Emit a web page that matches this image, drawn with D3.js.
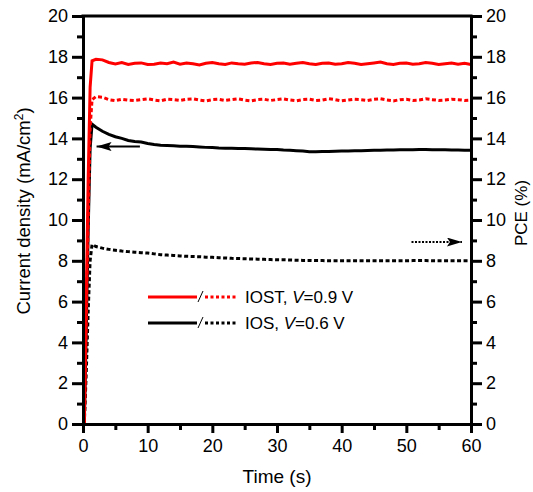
<!DOCTYPE html>
<html>
<head>
<meta charset="utf-8">
<script src="https://cdn.jsdelivr.net/npm/d3@7"></script>
<style>
  body { margin: 0; background: #fff; }
  text { font-family: "Liberation Sans", Arial, sans-serif; fill: #000; }
</style>
</head>
<body>
<script>
// time points (s) and readings
var timeRise = [0.2, 0.5, 0.8, 1.1, 1.4];
var iostJRise = [0, 6, 12, 16.5, 17.8];
var iostPRise = [0, 5, 10, 14.5, 15.9];
var iosJRise = [0, 4.5, 9.5, 13.5, 14.7];
var iosPRise = [0, 2.5, 5.5, 8, 8.8];

var timeMain = [2, 3, 4, 5, 6, 7, 8, 9, 10, 11, 12, 13, 14, 15, 16, 17, 18, 19, 20, 21, 22, 23, 24, 25, 26, 27, 28, 29, 30,
  31, 32, 33, 34, 35, 36, 37, 38, 39, 40, 41, 42, 43, 44, 45, 46, 47, 48, 49, 50, 51, 52, 53, 54, 55, 56, 57, 58, 59, 60];
var iostJ = [17.88, 17.85, 17.72, 17.65, 17.72, 17.62, 17.68, 17.7, 17.62, 17.64, 17.7, 17.66, 17.74, 17.64, 17.7, 17.66, 17.6, 17.68, 17.72, 17.66, 17.62, 17.7, 17.66, 17.64, 17.7, 17.72, 17.66, 17.62, 17.68,
  17.7, 17.64, 17.68, 17.72, 17.66, 17.62, 17.68, 17.7, 17.64, 17.66, 17.72, 17.68, 17.62, 17.66, 17.7, 17.74, 17.66, 17.62, 17.68, 17.7, 17.64, 17.66, 17.72, 17.68, 17.62, 17.66, 17.7, 17.64, 17.68, 17.62];
var iostP = [16.05, 16.02, 15.9, 15.85, 15.92, 15.88, 15.86, 15.9, 15.94, 15.88, 15.84, 15.92, 15.9, 15.86, 15.92, 15.94, 15.88, 15.84, 15.9, 15.92, 15.86, 15.9, 15.94, 15.88, 15.84, 15.9, 15.92, 15.86, 15.9,
  15.94, 15.88, 15.84, 15.9, 15.92, 15.86, 15.88, 15.94, 15.9, 15.84, 15.88, 15.92, 15.9, 15.86, 15.92, 15.94, 15.88, 15.84, 15.9, 15.92, 15.86, 15.88, 15.94, 15.9, 15.86, 15.88, 15.92, 15.9, 15.86, 15.88];
var iosJ = [14.55, 14.35, 14.2, 14.08, 14.0, 13.9, 13.85, 13.82, 13.75, 13.7, 13.66, 13.65, 13.64, 13.62, 13.62, 13.6, 13.58, 13.56, 13.55, 13.53, 13.52, 13.52, 13.5, 13.5, 13.49, 13.48, 13.47, 13.46, 13.45,
  13.43, 13.42, 13.4, 13.38, 13.35, 13.35, 13.36, 13.36, 13.37, 13.38, 13.38, 13.4, 13.4, 13.41, 13.42, 13.42, 13.43, 13.43, 13.44, 13.44, 13.44, 13.45, 13.45, 13.44, 13.44, 13.44, 13.43, 13.43, 13.42, 13.42];
var iosP = [8.7, 8.62, 8.56, 8.52, 8.48, 8.45, 8.42, 8.4, 8.38, 8.34, 8.3, 8.28, 8.26, 8.24, 8.22, 8.21, 8.2, 8.18, 8.17, 8.15, 8.14, 8.12, 8.11, 8.1, 8.09, 8.08, 8.07, 8.06, 8.05,
  8.05, 8.04, 8.03, 8.02, 8.02, 8.01, 8.01, 8.0, 8.0, 8.0, 8.0, 8.0, 8.0, 8.0, 8.0, 8.0, 8.0, 8.0, 8.0, 8.0, 8.01, 8.01, 8.01, 8.0, 8.0, 8.0, 8.0, 8.0, 8.0, 8.0];

var xTicks = [0, 10, 20, 30, 40, 50, 60];
var yTicks = [0, 2, 4, 6, 8, 10, 12, 14, 16, 18, 20];

var W = 533, H = 492;
var mLeft = 83, mRight = 471, mTop = 16, mBottom = 424;

var svg = d3.select('body').append('svg').attr('width', W).attr('height', H);

var x = d3.scaleLinear().domain([0, 60]).range([mLeft, mRight]);
var yL = d3.scaleLinear().domain([0, 20]).range([mBottom, mTop]);
var yR = d3.scaleLinear().domain([0, 20]).range([mBottom, mTop]);

function series(vRise, vMain) {
  var pts = [];
  timeRise.forEach(function (t, i) { pts.push([t, vRise[i]]); });
  timeMain.forEach(function (t, i) { pts.push([t, vMain[i]]); });
  return pts;
}

var lineL = d3.line().x(function (d) { return x(d[0]); }).y(function (d) { return yL(d[1]); });
var lineR = d3.line().x(function (d) { return x(d[0]); }).y(function (d) { return yR(d[1]); });

var g = svg.append('g');
g.append('path').attr('d', lineR(series(iosPRise, iosP))).attr('fill', 'none')
  .attr('stroke', '#000').attr('stroke-width', 3).attr('stroke-dasharray', '4,2.5');
g.append('path').attr('d', lineL(series(iosJRise, iosJ))).attr('fill', 'none')
  .attr('stroke', '#000').attr('stroke-width', 3);
g.append('path').attr('d', lineR(series(iostPRise, iostP))).attr('fill', 'none')
  .attr('stroke', '#ff0000').attr('stroke-width', 3).attr('stroke-dasharray', '4,2.5');
g.append('path').attr('d', lineL(series(iostJRise, iostJ))).attr('fill', 'none')
  .attr('stroke', '#ff0000').attr('stroke-width', 3);

// axes
function styleAxis(sel) {
  sel.selectAll('path').attr('stroke-width', 3);
  sel.selectAll('line').attr('stroke-width', 3);
  sel.selectAll('text').style('font-size', '18px').style('font-family', '"Liberation Sans", Arial, sans-serif');
}

var minorY = d3.range(1, 20, 2);
var minorX = d3.range(5, 60, 10);

svg.append('g').attr('transform', 'translate(' + mLeft + ',0)')
  .call(d3.axisLeft(yL).tickValues(minorY).tickSize(6).tickSizeOuter(0).tickFormat('')).call(styleAxis);
svg.append('g').attr('transform', 'translate(' + mLeft + ',0)')
  .call(d3.axisLeft(yL).tickValues(yTicks).tickSize(11).tickSizeOuter(0).tickPadding(4)).call(styleAxis);

svg.append('g').attr('transform', 'translate(' + mRight + ',0)')
  .call(d3.axisRight(yR).tickValues(minorY).tickSize(6).tickSizeOuter(0).tickFormat('')).call(styleAxis);
svg.append('g').attr('transform', 'translate(' + mRight + ',0)')
  .call(d3.axisRight(yR).tickValues(yTicks).tickSize(11).tickSizeOuter(0).tickPadding(4)).call(styleAxis);

svg.append('g').attr('transform', 'translate(0,' + mBottom + ')')
  .call(d3.axisBottom(x).tickValues(minorX).tickSize(6).tickSizeOuter(0).tickFormat('')).call(styleAxis);
svg.append('g').attr('transform', 'translate(0,' + mBottom + ')')
  .call(d3.axisBottom(x).tickValues(xTicks).tickSize(9).tickSizeOuter(0).tickPadding(6)).call(styleAxis);

svg.append('line').attr('x1', mLeft - 1.5).attr('x2', mRight + 1.5).attr('y1', mTop).attr('y2', mTop)
  .attr('stroke', '#000').attr('stroke-width', 3);

// axis titles
svg.append('text').attr('x', 277).attr('y', 483).attr('text-anchor', 'middle')
  .style('font-size', '19px').text('Time (s)');
var lt = svg.append('text').attr('transform', 'translate(30,' + 211 + ') rotate(-90)')
  .attr('text-anchor', 'middle').style('font-size', '18.5px');
lt.append('tspan').text('Current density (mA/cm');
lt.append('tspan').attr('baseline-shift', 'super').style('font-size', '12px').text('2');
lt.append('tspan').text(')');
svg.append('text').attr('transform', 'translate(527,' + 213 + ') rotate(-90)')
  .attr('text-anchor', 'middle').style('font-size', '17px').text('PCE (%)');

// arrows
var defs = svg.append('defs');
defs.append('marker').attr('id', 'ah').attr('viewBox', '0 0 10 6').attr('refX', 10).attr('refY', 3)
  .attr('markerWidth', 19).attr('markerHeight', 9).attr('markerUnits', 'userSpaceOnUse').attr('orient', 'auto')
  .append('path').attr('d', 'M0,0 L10,3 L0,6 L2,3 Z').attr('fill', '#000');

svg.append('line').attr('x1', x(8.8)).attr('x2', x(2.1)).attr('y1', yL(13.6)).attr('y2', yL(13.6))
  .attr('stroke', '#000').attr('stroke-width', 2).attr('marker-end', 'url(#ah)');
svg.append('line').attr('x1', x(50.8)).attr('x2', x(58.6)).attr('y1', yR(8.92)).attr('y2', yR(8.92))
  .attr('stroke', '#000').attr('stroke-width', 2).attr('stroke-dasharray', '2,1.5').attr('marker-end', 'url(#ah)');

// legend
var legend = [
  { name: 'IOST', v: '0.9 V', color: '#ff0000', y: 297 },
  { name: 'IOS', v: '0.6 V', color: '#000', y: 323 }
];
legend.forEach(function (d) {
  svg.append('line').attr('x1', 148).attr('x2', 197).attr('y1', d.y).attr('y2', d.y)
    .attr('stroke', d.color).attr('stroke-width', 3);
  svg.append('line').attr('x1', 205).attr('x2', 238).attr('y1', d.y).attr('y2', d.y)
    .attr('stroke', d.color).attr('stroke-width', 3).attr('stroke-dasharray', '3,2.5');
  svg.append('line').attr('x1', 198).attr('x2', 203).attr('y1', d.y + 5).attr('y2', d.y - 6)
    .attr('stroke', '#000').attr('stroke-width', 1);
  var t = svg.append('text').attr('x', 245).attr('y', d.y + 6).style('font-size', '17px');
  t.append('tspan').text(d.name + ', ');
  t.append('tspan').style('font-style', 'italic').text('V');
  t.append('tspan').text('=' + d.v);
});
</script>
</body>
</html>
